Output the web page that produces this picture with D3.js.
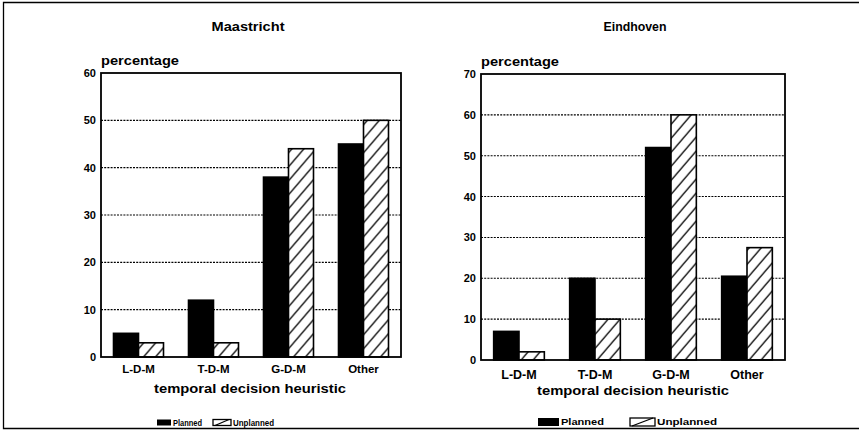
<!DOCTYPE html>
<html>
<head>
<meta charset="utf-8">
<script src="https://cdn.jsdelivr.net/npm/d3@7"></script>
<style>
  body { margin: 0; background: #fff; }
  svg text { font-family: "Liberation Sans", Arial, sans-serif; font-weight: bold; fill: #000; }
</style>
</head>
<body>
<div id="chart"></div>
<script>
// data
var categories = ["L-D-M", "T-D-M", "G-D-M", "Other"];
var seriesNames = ["Planned", "Unplanned"];

var maastrichtPlanned = [5, 12, 38, 45];
var maastrichtUnplanned = [3, 3, 44, 50];
var maastrichtTicks = [0, 10, 20, 30, 40, 50, 60];

var eindhovenPlanned = [7, 20, 52, 20.5];
var eindhovenUnplanned = [2, 10, 60, 27.5];
var eindhovenTicks = [0, 10, 20, 30, 40, 50, 60, 70];

var W = 859, H = 439;

var svg = d3.select("#chart")
    .append("svg")
    .attr("width", W)
    .attr("height", H);

// hatch pattern for the unplanned bars
var defs = svg.append("defs");
var pat = defs.append("pattern")
    .attr("id", "hatch")
    .attr("patternUnits", "userSpaceOnUse")
    .attr("width", 12)
    .attr("height", 14);
pat.append("rect").attr("width", 12).attr("height", 14).attr("fill", "#fff");
pat.append("path")
    .attr("d", "M0,14 L12,0 M-3,3.5 L3,-3.5 M9,17.5 L15,10.5")
    .attr("stroke", "#000")
    .attr("stroke-width", 1.3);

// outer frame
svg.append("path")
    .attr("d", "M860,2.5 L3.5,2.5 L3.5,428.5 L860,428.5")
    .attr("fill", "none")
    .attr("stroke", "#000")
    .attr("stroke-width", 1.3);

var draw_panel = function(opt) {
    var g = svg.append("g");
    var planned = opt.planned, unplanned = opt.unplanned;

    var x = d3.scaleBand()
        .domain(categories)
        .range([opt.left, opt.right])
        .paddingInner(1 / 3)
        .paddingOuter(1 / 6);
    var x1 = d3.scaleBand()
        .domain(seriesNames)
        .range([0, x.bandwidth()]);
    var y = d3.scaleLinear()
        .domain([0, d3.max(opt.ticks)])
        .range([opt.bottom, opt.top]);

    // title
    g.append("text")
        .attr("x", opt.titleX)
        .attr("y", 31)
        .attr("text-anchor", "middle")
        .attr("font-size", 13)
        .attr("textLength", opt.titleLen)
        .attr("lengthAdjust", "spacingAndGlyphs")
        .text(opt.title);

    // dotted gridlines
    g.selectAll(".grid")
        .data(opt.ticks.slice(1, -1))
        .enter()
        .append("line")
        .attr("x1", opt.left)
        .attr("x2", opt.right)
        .attr("y1", function(d) { return y(d); })
        .attr("y2", function(d) { return y(d); })
        .attr("stroke", "#000")
        .attr("stroke-width", 1.1)
        .attr("stroke-dasharray", "2,1.2");

    // bars
    var rows = categories.map(function(c, i) {
        return [{cat: c, s: "Planned", v: planned[i]},
                {cat: c, s: "Unplanned", v: unplanned[i]}];
    });
    var grp = g.selectAll(".grp")
        .data(rows)
        .enter()
        .append("g")
        .attr("transform", function(d) { return "translate(" + x(d[0].cat) + ",0)"; });
    grp.selectAll("rect")
        .data(function(d) { return d; })
        .enter()
        .append("rect")
        .attr("x", function(d) { return x1(d.s); })
        .attr("y", function(d) { return y(d.v); })
        .attr("width", x1.bandwidth())
        .attr("height", function(d) { return y(0) - y(d.v); })
        .attr("fill", function(d) { return d.s == "Planned" ? "#000" : "url(#hatch)"; })
        .attr("stroke", "#000")
        .attr("stroke-width", 1.6);

    // plot frame
    g.append("rect")
        .attr("x", opt.left)
        .attr("y", opt.top)
        .attr("width", opt.right - opt.left)
        .attr("height", opt.bottom - opt.top)
        .attr("fill", "none")
        .attr("stroke", "#000")
        .attr("stroke-width", 1.8);

    // y axis labels
    var ya = g.append("g")
        .attr("transform", "translate(" + (opt.left - 3) + ",0)")
        .call(d3.axisLeft(y).tickValues(opt.ticks).tickSize(0).tickPadding(2));
    ya.select(".domain").remove();
    ya.selectAll("text")
        .attr("font-size", 11)
        .attr("font-family", "Liberation Sans, Arial, sans-serif")
        .attr("font-weight", "bold");

    // x axis labels
    var xa = g.append("g")
        .attr("transform", "translate(0," + opt.bottom + ")")
        .call(d3.axisBottom(x).tickSize(0).tickPadding(opt.xPad));
    xa.select(".domain").remove();
    xa.selectAll("text")
        .attr("font-size", opt.xFont)
        .attr("font-family", "Liberation Sans, Arial, sans-serif")
        .attr("font-weight", "bold");

    // y title
    g.append("text")
        .attr("x", opt.left)
        .attr("y", opt.top - 8)
        .attr("font-size", 12.5)
        .attr("textLength", 78)
        .attr("lengthAdjust", "spacingAndGlyphs")
        .text("percentage");

    // x title
    g.append("text")
        .attr("x", opt.xTitleX)
        .attr("y", opt.xTitleY)
        .attr("text-anchor", "middle")
        .attr("font-size", 13.5)
        .attr("textLength", 192)
        .attr("lengthAdjust", "spacingAndGlyphs")
        .text("temporal decision heuristic");

    // legend
    var lg = g.append("g").attr("transform", "translate(" + opt.legX + "," + opt.legY + ")");
    lg.append("rect")
        .attr("x", 0).attr("y", -opt.boxH / 2)
        .attr("width", opt.boxW).attr("height", opt.boxH)
        .attr("fill", "#000");
    lg.append("text")
        .attr("x", opt.boxW + 2).attr("y", 3)
        .attr("font-size", opt.legFont)
        .attr("textLength", opt.legLen1)
        .attr("lengthAdjust", "spacingAndGlyphs")
        .text(seriesNames[0]);
    lg.append("rect")
        .attr("x", opt.leg2).attr("y", -opt.boxH / 2)
        .attr("width", opt.boxW + 4).attr("height", opt.boxH)
        .attr("fill", "#fff")
        .attr("stroke", "#000")
        .attr("stroke-width", 1.3);
    lg.append("path")
        .attr("d", "M" + (opt.leg2 + 2) + "," + (opt.boxH / 2) + " L" + (opt.leg2 + opt.boxW + 2) + "," + (-opt.boxH / 2))
        .attr("stroke", "#000")
        .attr("stroke-width", 1.3);
    lg.append("text")
        .attr("x", opt.leg2 + opt.boxW + 6).attr("y", 3)
        .attr("font-size", opt.legFont)
        .attr("textLength", opt.legLen2)
        .attr("lengthAdjust", "spacingAndGlyphs")
        .text(seriesNames[1]);
};

draw_panel({
    title: "Maastricht", titleX: 248, titleLen: 73,
    planned: maastrichtPlanned, unplanned: maastrichtUnplanned, ticks: maastrichtTicks,
    left: 101, right: 401, top: 73, bottom: 357, xPad: 8, xFont: 11.5,
    xTitleX: 250, xTitleY: 393,
    legX: 157, legY: 422.5, boxW: 14, boxH: 6, leg2: 56, legFont: 8.5,
    legLen1: 29, legLen2: 41
});

draw_panel({
    title: "Eindhoven", titleX: 635, titleLen: 63,
    planned: eindhovenPlanned, unplanned: eindhovenUnplanned, ticks: eindhovenTicks,
    left: 481, right: 785, top: 74, bottom: 360, xPad: 10, xFont: 12.5,
    xTitleX: 633, xTitleY: 395,
    legX: 538, legY: 422, boxW: 21, boxH: 8, leg2: 92, legFont: 9.5,
    legLen1: 43, legLen2: 60
});
</script>
</body>
</html>
